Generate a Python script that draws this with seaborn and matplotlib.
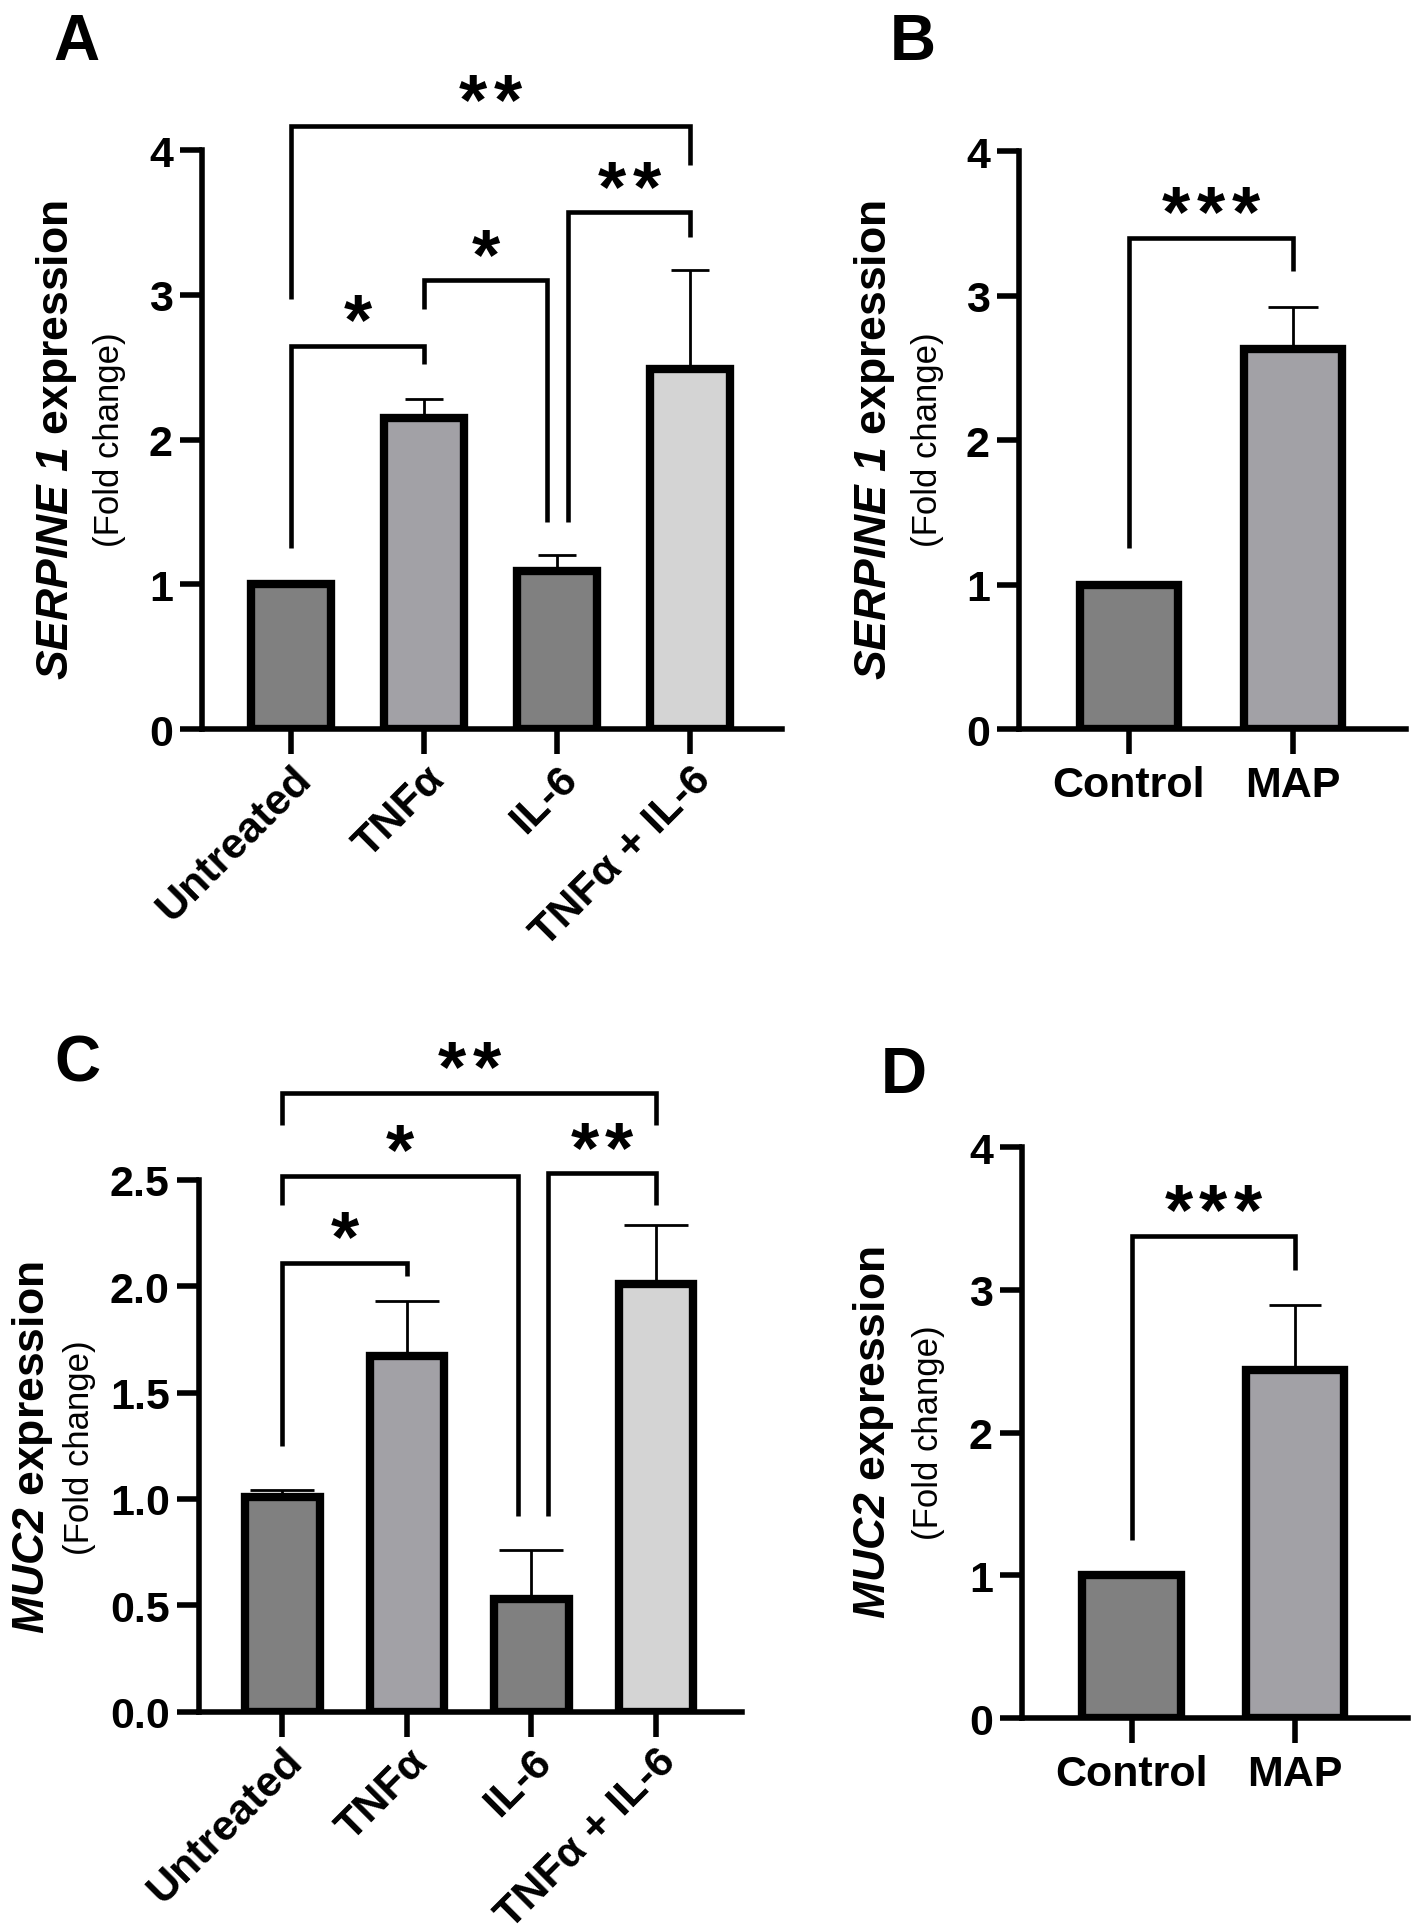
import matplotlib
matplotlib.use("Agg")
import numpy as np
import matplotlib.pyplot as plt
import seaborn as sns

# ---- data ----
cyto_groups = ["Untreated", "TNFα", "IL-6", "TNFα + IL-6"]
map_groups = ["Control", "MAP"]

serpine_cyto = [1.00, 2.15, 1.09, 2.49]
serpine_cyto_err = [0.01, 0.13, 0.11, 0.68]

serpine_map = [1.00, 2.63]
serpine_map_err = [0.0, 0.29]

muc2_cyto = [1.01, 1.67, 0.53, 2.01]
muc2_cyto_err = [0.03, 0.26, 0.23, 0.28]

muc2_map = [1.00, 2.44]
muc2_map_err = [0.01, 0.45]

# brackets: (x left, x right, bar height, left leg end, right leg end, stars)
brackets_a = [(0, 1, 2.65, 1.25, 2.52, "*"),
              (1, 1.92, 3.10, 2.90, 1.43, "*"),
              (2.08, 3, 3.57, 1.43, 3.40, "**"),
              (0, 3, 4.17, 2.97, 3.90, "**")]
brackets_b = [(0, 1, 3.40, 1.25, 3.17, "***")]
brackets_c = [(0, 1, 2.11, 1.25, 2.05, "*"),
              (0, 1.89, 2.52, 2.38, 0.92, "*"),
              (2.13, 3, 2.53, 0.92, 2.38, "**"),
              (0, 3, 2.91, 2.76, 2.76, "**")]
brackets_d = [(0, 1, 3.38, 1.25, 3.14, "***")]

cyto_colors = ["#808080", "#a2a1a6", "#808080", "#d4d4d4"]
map_colors = ["#808080", "#a2a1a6"]

sns.set_style("ticks")
plt.rcParams["font.family"] = ["Liberation Sans", "DejaVu Sans"]
plt.rcParams["mathtext.fontset"] = "custom"
plt.rcParams["mathtext.it"] = "Liberation Sans:italic:bold"
plt.rcParams["mathtext.rm"] = "Liberation Sans:italic:bold"
for key in ["text.color", "axes.labelcolor", "xtick.color", "ytick.color", "axes.edgecolor"]:
    plt.rcParams[key] = "black"

fig = plt.figure(figsize=(14.17, 19.33), dpi=100)


def draw_panel(ax, groups, values, errs, colors, ymax, yticks, ylabels, capsize, rotate, brackets):
    sns.barplot(x=groups, y=values, hue=groups, palette=dict(zip(groups, colors)),
                legend=False, width=0.6, saturation=1, edgecolor="black",
                linewidth=6, errorbar=None, ax=ax)
    ax.errorbar(range(len(groups)), values, yerr=[np.zeros(len(errs)), errs],
                fmt="none", ecolor="black", elinewidth=2, capsize=capsize,
                capthick=2, zorder=3)
    ax.set_xlim(-0.67, len(groups) - 1 + 0.69)
    ax.set_ylim(0, ymax)
    ax.set_yticks(yticks, labels=ylabels, fontsize=31, fontweight="bold")
    if rotate:
        ax.set_xticks(range(len(groups)), labels=groups, fontsize=31, fontweight="bold",
                      rotation=45, ha="right", va="top", rotation_mode="anchor")
        ax.tick_params(axis="x", pad=3)
    else:
        ax.set_xticks(range(len(groups)), labels=groups, fontsize=31, fontweight="bold")
        ax.tick_params(axis="x", pad=8)
    ax.set_xlabel("")
    ax.set_ylabel("")
    sns.despine(ax=ax)
    for side in ["left", "bottom"]:
        ax.spines[side].set_linewidth(4)
        ax.spines[side].set_color("black")
    ax.tick_params(axis="y", length=16, width=4, pad=5, colors="black")
    ax.tick_params(axis="x", length=18, width=4, colors="black")

    for x1, x2, y, yl, yr, stars in brackets:
        ax.plot([x1, x1, x2, x2], [yl, y, y, yr], color="black", lw=3.3,
                clip_on=False, solid_joinstyle="miter", solid_capstyle="butt")
        n = len(stars)
        for i in range(n):
            dx = (i - (n - 1) / 2) * 25
            ax.annotate("*", ((x1 + x2) / 2, y), xytext=(dx, 2),
                        textcoords="offset points", ha="center", va="baseline",
                        fontsize=52, fontweight="bold", color="black",
                        annotation_clip=False)


ax_a = fig.add_axes([0.1426, 0.6223, 0.4093, 0.2995])
draw_panel(ax_a, cyto_groups, serpine_cyto, serpine_cyto_err, cyto_colors,
           4, [0, 1, 2, 3, 4], ["0", "1", "2", "3", "4"], 14, True, brackets_a)

ax_b = fig.add_axes([0.7191, 0.6223, 0.2731, 0.2990])
draw_panel(ax_b, map_groups, serpine_map, serpine_map_err, map_colors,
           4, [0, 1, 2, 3, 4], ["0", "1", "2", "3", "4"], 18, False, brackets_b)

ax_c = fig.add_axes([0.1404, 0.1140, 0.3832, 0.2751])
draw_panel(ax_c, cyto_groups, muc2_cyto, muc2_cyto_err, cyto_colors,
           2.5, [0, 0.5, 1.0, 1.5, 2.0, 2.5], ["0.0", "0.5", "1.0", "1.5", "2.0", "2.5"],
           23, True, brackets_c)

ax_d = fig.add_axes([0.7212, 0.1107, 0.2724, 0.2954])
draw_panel(ax_d, map_groups, muc2_map, muc2_map_err, map_colors,
           4, [0, 1, 2, 3, 4], ["0", "1", "2", "3", "4"], 19, False, brackets_d)

# y axis titles (two lines each)
serpine_title = r"$\mathit{SERPINE\ 1}$ expression"
muc2_title = r"$\mathit{MUC2}$ expression"
for x1, x2, yc, title in [(0.0402, 0.0776, 0.7724, serpine_title),
                          (0.6175, 0.6549, 0.7724, serpine_title),
                          (0.0226, 0.0558, 0.2509, muc2_title),
                          (0.6161, 0.6556, 0.2587, muc2_title)]:
    fig.text(x1, yc, title, rotation=90, ha="center", va="center",
             fontsize=32, fontweight="bold")
    fig.text(x2, yc, "(Fold change)", rotation=90, ha="center", va="center",
             fontsize=25)

# panel letters
for x, y, letter in [(0.0374, 0.9933, "A"), (0.628, 0.9933, "B"),
                     (0.0381, 0.4650, "C"), (0.6217, 0.4590, "D")]:
    fig.text(x, y, letter, fontsize=46, fontweight="bold", ha="left", va="top")

fig.savefig("out.png", dpi=100)
